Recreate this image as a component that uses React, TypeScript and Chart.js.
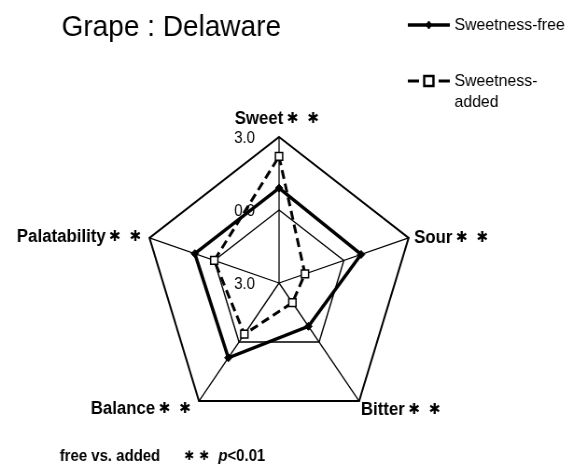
import { useEffect, useRef } from "react";
import { Chart, registerables } from "chart.js";

Chart.register(...registerables);

const title = "Grape : Delaware";
const categories = ["Sweet", "Sour", "Bitter", "Balance", "Palatability"];
const significance = ["✱ ✱", "✱ ✱", "✱ ✱", "✱ ✱", "✱ ✱"];
const seriesNames = ["Sweetness-free", "Sweetness-added"];
const sweetnessFree = [0.9, 0.8, -0.8, 0.8, 0.9];
const sweetnessAdded = [2.2, -1.8, -2.0, -0.4, 0.0];
const tickValues = [-3, 0, 3];
const tickLabels = ["3.0", "0.0", "3.0"];
const footnoteText = "free vs. added";
const footnoteMarks = "✱ ✱";
const footnoteP = "p";
const footnoteLevel = "<0.01";

// The canvas is drawn wider than it is shown, so the whole figure appears
// slightly condensed horizontally.
const CANVAS_W = 614;
const CANVAS_H = 471;
const SHOW_W = 573;

const FONT = "'Liberation Sans', Arial, sans-serif";
const MARK_FONT = "'DejaVu Sans', sans-serif";

// Where each axis label sits relative to its outer vertex.
const labelPlacement = [
  { align: "center", dx: -3, dy: -19 },
  { align: "left", dx: 6, dy: -1 },
  { align: "left", dx: 2, dy: 7 },
  { align: "right", dx: -10, dy: 6 },
  { align: "right", dx: -10, dy: -2 },
];

// Draws significance marks one by one; x is the centre of the first mark.
function drawMarks(ctx: CanvasRenderingContext2D, marks: string, x: number, yMid: number, size: number, spacing: number) {
  ctx.font = `bold ${size}px ${MARK_FONT}`;
  ctx.textAlign = "center";
  ctx.textBaseline = "alphabetic";
  marks.split(" ").forEach((m, i) => {
    ctx.fillText(m, x + i * spacing, yMid + size * 0.36);
  });
}

function drawMarker(ctx: CanvasRenderingContext2D, style: string, x: number, y: number, r: number, fill: string, stroke: string, lw: number) {
  ctx.beginPath();
  if (style === "rect") {
    const s = r * Math.SQRT1_2;
    ctx.rect(x - s, y - s, 2 * s, 2 * s);
  } else {
    ctx.moveTo(x, y - r);
    ctx.lineTo(x + r * 0.8, y);
    ctx.lineTo(x, y + r);
    ctx.lineTo(x - r * 0.8, y);
    ctx.closePath();
  }
  ctx.fillStyle = fill;
  ctx.fill();
  ctx.lineWidth = lw;
  ctx.strokeStyle = stroke;
  ctx.setLineDash([]);
  ctx.stroke();
}

const annotate = {
  id: "annotate",
  beforeDatasetsDraw(chart: any) {
    const ctx: CanvasRenderingContext2D = chart.ctx;
    const scale = chart.scales.r;
    ctx.save();
    ctx.fillStyle = "#000";
    ctx.font = `16px ${FONT}`;
    ctx.textAlign = "center";
    ctx.textBaseline = "middle";
    tickValues.forEach((v, i) => {
      const p = scale.getPointPosition(0, scale.getDistanceFromCenterForValue(v));
      ctx.fillText(tickLabels[i], p.x - 37, p.y + 2);
    });
    ctx.restore();
  },
  afterDraw(chart: any) {
    const ctx: CanvasRenderingContext2D = chart.ctx;
    const scale = chart.scales.r;
    ctx.save();
    ctx.fillStyle = "#000";

    // title
    ctx.font = `30px ${FONT}`;
    ctx.textAlign = "left";
    ctx.textBaseline = "alphabetic";
    ctx.fillText(title, 66, 36);

    // axis labels with significance marks
    const labelSize = 18;
    const markSize = 15;
    const firstOffset = 10;
    const markSpacing = 22;
    categories.forEach((name, i) => {
      const v = scale.getPointPosition(i, scale.drawingArea);
      const pl = labelPlacement[i];
      ctx.font = `bold ${labelSize}px ${FONT}`;
      const nameW = ctx.measureText(name).width;
      const nMarks = significance[i].split(" ").length;
      const total = nameW + firstOffset + (nMarks - 1) * markSpacing + 5;
      const ax = v.x + pl.dx;
      const yMid = v.y + pl.dy;
      let left = ax;
      if (pl.align === "center") left = ax - total / 2;
      else if (pl.align === "right") left = ax - total;
      ctx.font = `bold ${labelSize}px ${FONT}`;
      ctx.textAlign = "left";
      ctx.textBaseline = "alphabetic";
      ctx.fillText(name, left, yMid + labelSize * 0.36);
      drawMarks(ctx, significance[i], left + nameW + firstOffset, yMid, markSize, markSpacing);
    });

    // legend
    const legendFont = `17px ${FONT}`;
    chart.data.datasets.forEach((ds: any, i: number) => {
      const y = 25 + i * 56;
      const x0 = 437;
      const x1 = 482;
      ctx.beginPath();
      // a dashed series shows one dash on either side of its marker
      ctx.setLineDash(ds.borderDash ? [12, x1 - x0 - 24] : []);
      ctx.lineWidth = ds.borderWidth;
      ctx.strokeStyle = ds.borderColor;
      ctx.moveTo(x0, y);
      ctx.lineTo(x1, y);
      ctx.stroke();
      drawMarker(ctx, ds.pointStyle, (x0 + x1) / 2, y, ds.pointStyle === "rect" ? 7 : ds.pointRadius, ds.pointBackgroundColor, ds.pointBorderColor, ds.pointStyle === "rect" ? 2.5 : 1);
      ctx.fillStyle = "#000";
      ctx.font = legendFont;
      ctx.textAlign = "left";
      ctx.textBaseline = "middle";
      const tx = 487;
      const maxW = chart.width - tx - 4;
      const label: string = ds.label;
      if (ctx.measureText(label).width > maxW && label.includes("-")) {
        const k = label.indexOf("-") + 1;
        ctx.fillText(label.slice(0, k), tx, y);
        ctx.fillText(label.slice(k), tx, y + 21);
      } else {
        ctx.fillText(label, tx, y);
      }
    });

    // footnote
    const fy = 455;
    ctx.fillStyle = "#000";
    ctx.font = `bold 16px ${FONT}`;
    ctx.textAlign = "left";
    ctx.textBaseline = "alphabetic";
    ctx.fillText(footnoteText, 64, fy + 6);
    drawMarks(ctx, footnoteMarks, 203, fy, 13, 16);
    let px = 234;
    ctx.font = `italic bold 16px ${FONT}`;
    ctx.textAlign = "left";
    ctx.textBaseline = "alphabetic";
    ctx.fillText(footnoteP, px, fy + 6);
    px += ctx.measureText(footnoteP).width;
    ctx.font = `bold 16px ${FONT}`;
    ctx.fillText(footnoteLevel, px, fy + 6);

    ctx.restore();
  },
};

export default function App() {
  const canvasRef = useRef<HTMLCanvasElement | null>(null);

  useEffect(() => {
    const canvas = canvasRef.current;
    if (!canvas) return;
    const chart = new Chart(canvas, {
      type: "radar",
      data: {
        labels: categories,
        datasets: [
          {
            label: seriesNames[0],
            data: sweetnessFree,
            borderColor: "#000",
            borderWidth: 3.5,
            pointStyle: "rectRot",
            pointRadius: 4,
            pointBackgroundColor: "#000",
            pointBorderColor: "#000",
            pointBorderWidth: 1,
            fill: false,
            order: 2,
          } as any,
          {
            label: seriesNames[1],
            data: sweetnessAdded,
            borderColor: "#000",
            borderWidth: 3,
            borderDash: [9, 5],
            pointStyle: "rect",
            pointRadius: 5.5,
            pointBackgroundColor: "#fff",
            pointBorderColor: "#000",
            pointBorderWidth: 1.5,
            fill: false,
            order: 1,
          } as any,
        ],
      },
      options: {
        responsive: false,
        animation: false,
        devicePixelRatio: 1,
        layout: { padding: { left: 153, right: 168, top: 137, bottom: 41 } },
        plugins: {
          legend: { display: false },
          title: { display: false },
          tooltip: { enabled: false },
        },
        elements: { line: { tension: 0 } },
        scales: {
          r: {
            min: -3,
            max: 3,
            ticks: { stepSize: 3, display: false },
            pointLabels: { display: false },
            grid: {
              color: "#000",
              lineWidth: (c: any) => (c.index === tickValues.length - 1 ? 2 : 1.4),
            },
            angleLines: { color: "#000", lineWidth: 1.3 },
          },
        },
      } as any,
      plugins: [annotate],
    });
    return () => chart.destroy();
  }, []);

  return (
    <div style={{ position: "absolute", left: 0, top: 0, width: SHOW_W, height: CANVAS_H, background: "#fff" }}>
      <canvas
        ref={canvasRef}
        width={CANVAS_W}
        height={CANVAS_H}
        style={{ width: `${SHOW_W}px`, height: `${CANVAS_H}px`, display: "block" }}
      />
    </div>
  );
}
